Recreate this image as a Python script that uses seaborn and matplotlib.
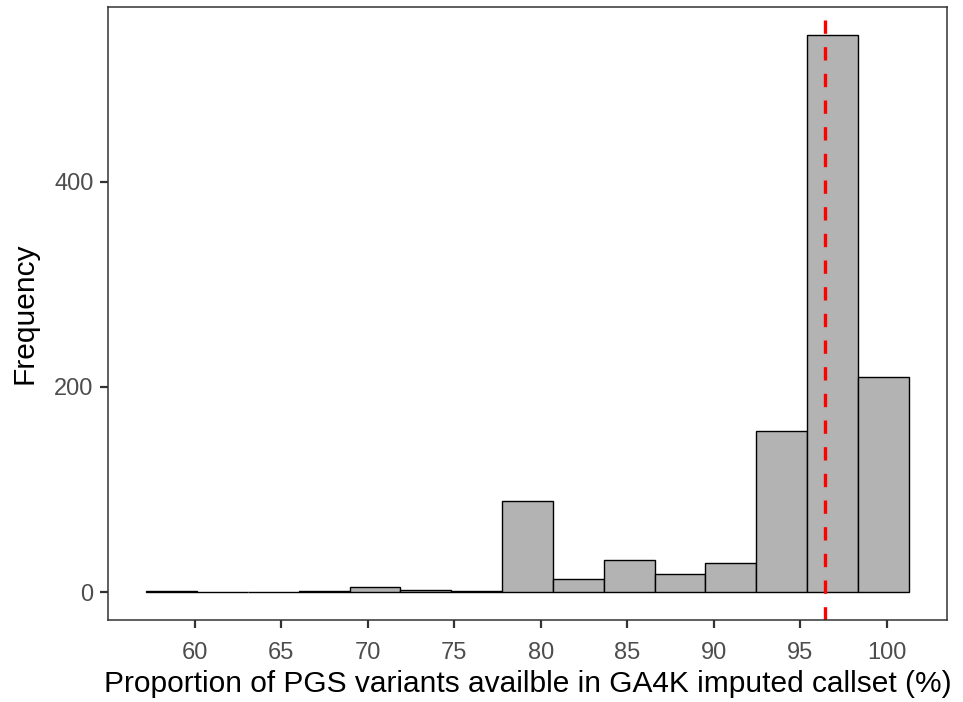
import numpy as np
import pandas as pd
import matplotlib
matplotlib.use("Agg")
import matplotlib.pyplot as plt
import seaborn as sns

# Histogram of per-score variant availability (%)
counts = [1, 0, 0, 1, 5, 2, 1, 89, 13, 31, 18, 28, 157, 543, 210]
bin_lo, bin_hi = 57.18, 101.27
median_pct = 96.45
x_ticks = [60, 65, 70, 75, 80, 85, 90, 95, 100]
y_ticks = [0, 200, 400]

edges = np.linspace(bin_lo, bin_hi, len(counts) + 1)
centers = (edges[:-1] + edges[1:]) / 2
df = pd.DataFrame({"pct": centers, "n": counts})

sns.set_theme(style="white")
plt.rcParams["font.family"] = ["Liberation Sans", "DejaVu Sans"]

fig = plt.figure(figsize=(9.63, 7.02), dpi=100)
ax = fig.add_axes([108 / 963, 1 - 620 / 702, (947 - 108) / 963, (620 - 7) / 702])

sns.histplot(data=df, x="pct", weights="n", bins=list(edges), ax=ax,
             color="#B3B3B3", alpha=1, edgecolor="black", linewidth=1.0)
ax.axvline(median_pct, color="#FF0000", linewidth=2.4, linestyle=(0, (4, 4)))

span = bin_hi - bin_lo
ax.set_xlim(bin_lo - 0.05 * span, bin_hi + 0.05 * span)
ymax = max(counts)
ax.set_ylim(-0.05 * ymax, ymax * 1.05)
ax.set_xticks(x_ticks)
ax.set_yticks(y_ticks)

for s in ax.spines.values():
    s.set_color("#333333")
    s.set_linewidth(1.1)
ax.tick_params(axis="both", which="major", direction="out", length=5.5, width=1.6,
               color="#333333", labelcolor="#4D4D4D", labelsize=17,
               bottom=True, left=True)
ax.tick_params(axis="x", pad=10)
ax.tick_params(axis="y", pad=5)
ax.set_xlabel("Proportion of PGS variants availble in GA4K imputed callset (%)",
              fontsize=21.5, color="black", labelpad=5)
ax.set_ylabel("Frequency", fontsize=21.5, color="black", labelpad=11)
ax.grid(False)

fig.savefig("out.png", dpi=100)
